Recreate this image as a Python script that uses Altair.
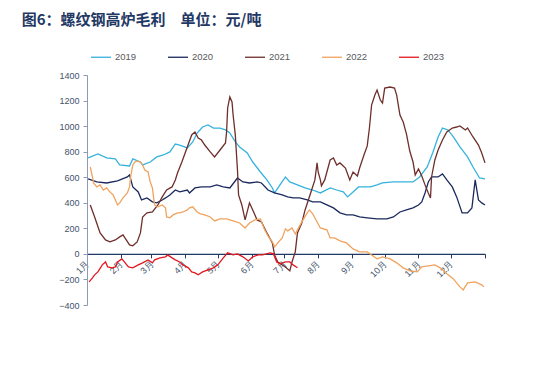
import altair as alt
import pandas as pd

# ---- data (day of year, gross margin yuan/ton) ----
years = ["2019", "2020", "2021", "2022", "2023"]
colors = ["#35B2DE", "#1B2A5E", "#6E2E2B", "#F0A35E", "#E3171E"]
widths = [1.3, 1.3, 1.3, 1.3, 2.4]

d2019 = [1,10,18,26,30,39,42,49,51,58,64,70,76,81,85,92,97,101,106,111,116,122,127,131,136,140,147,152,159,165,170,172,177,182,186,193,200,207,214,223,229,235,239,244,249,253,260,266,271,281,290,299,305,312,317,322,326,331,336,342,349,354,360,365]
v2019 = [751,782,751,743,696,688,743,719,696,719,759,774,798,860,852,829,876,946,993,1009,985,985,970,946,876,837,790,719,641,579,516,477,540,602,563,540,516,500,477,516,500,485,446,485,524,524,524,540,555,563,563,563,602,680,790,915,985,970,915,837,759,680,594,587]

d2020 = [1,9,18,28,37,39,42,47,50,55,60,64,69,72,76,81,85,92,94,99,105,113,119,125,131,138,143,149,156,160,166,172,179,184,189,195,202,207,214,220,226,232,238,244,250,257,266,275,281,287,293,299,304,307,310,313,316,322,326,330,335,339,344,349,353,356,359,362,365]
v2020 = [587,563,555,571,602,618,524,485,422,438,407,399,422,438,461,500,485,500,477,516,524,524,540,524,516,594,563,555,563,555,500,477,461,446,438,438,422,407,407,383,360,321,305,305,289,282,274,274,289,328,344,360,383,407,477,563,602,602,626,579,524,446,321,321,360,579,422,399,383]

d2021 = [3,7,12,17,21,26,30,33,36,39,42,46,49,51,55,60,65,69,73,78,81,83,87,92,96,99,102,105,108,113,117,122,127,128,129,131,133,134,136,138,139,142,145,149,152,156,160,165,170,172,175,182,186,188,191,193,197,200,203,206,209,211,212,214,215,218,223,226,229,232,237,241,244,248,250,254,257,259,261,264,266,269,271,273,278,282,284,287,290,293,296,299,301,304,307,310,313,315,316,319,322,326,330,335,339,342,347,349,354,359,362,365]
v2021 = [383,289,164,109,94,109,133,149,109,70,63,94,164,289,321,328,383,446,500,524,579,633,719,837,931,954,907,891,852,798,759,813,868,954,1142,1228,1189,1087,931,657,461,383,266,399,344,266,250,164,86,-8,-63,-102,-133,-63,16,164,242,344,422,500,579,712,641,579,532,579,735,751,696,712,672,579,641,610,672,774,845,985,1165,1243,1282,1204,1181,1298,1306,1298,1243,1087,1032,938,805,719,618,665,610,540,477,438,602,735,813,891,954,985,993,1001,970,985,915,852,790,712]

d2022 = [3,5,6,9,12,15,18,21,24,26,28,30,33,37,39,40,42,44,46,49,51,53,56,58,60,61,62,65,69,72,73,76,79,83,85,88,92,94,97,101,104,108,113,117,122,128,134,140,145,149,154,159,163,166,170,172,175,179,182,184,188,191,193,197,202,204,207,211,214,220,223,227,232,238,244,250,257,261,266,271,278,284,290,296,303,307,313,319,324,330,336,342,345,349,356,362,364]
v2022 = [680,602,555,524,540,500,516,485,461,422,383,399,438,477,524,602,696,719,727,719,696,657,641,563,516,446,383,368,383,360,289,282,305,321,321,328,344,360,368,328,313,305,289,258,274,274,258,242,203,242,266,274,188,141,94,55,86,125,196,180,203,156,188,250,321,344,313,250,203,188,125,125,102,86,39,16,16,-8,-39,-23,-39,-70,-109,-133,-141,-102,-94,-86,-109,-156,-196,-258,-282,-227,-219,-242,-258]

d2023 = [2,5,7,10,14,17,19,23,26,28,32,35,38,42,47,51,56,60,62,67,72,74,78,81,85,88,93,96,99,102,106,111,116,120,125,129,134,138,143,148,152,157,161,168,171,174,177,182,186,189,193]
v2023 = [-219,-188,-164,-141,-86,-63,-102,-109,-102,-63,-39,-70,-102,-109,-86,-70,-47,-70,-47,-31,-23,-8,-31,-47,-63,-86,-109,-141,-149,-164,-141,-125,-109,-86,-31,8,-8,0,-23,-55,-23,-8,-8,8,0,-63,-78,-63,-63,-86,-109]

month_starts = [0, 31, 59, 90, 120, 151, 181, 212, 243, 273, 304, 334]
month_labels = ["1月", "2月", "3月", "4月", "5月", "6月", "7月", "8月", "9月", "10月", "11月", "12月"]
y_ticks = [-400, -200, 0, 200, 400, 600, 800, 1000, 1200, 1400]

series = {"2019": (d2019, v2019), "2020": (d2020, v2020), "2021": (d2021, v2021),
          "2022": (d2022, v2022), "2023": (d2023, v2023)}
rows = []
for yr, (ds, vs) in series.items():
    for d, v in zip(ds, vs):
        rows.append({"year": yr, "day": d, "value": v})
df = pd.DataFrame(rows)

starts_js = "[" + ",".join(str(m) for m in month_starts) + "]"
labels_js = "[" + ",".join("'" + m + "'" for m in month_labels) + "]"
label_expr = (f"indexof({starts_js}, datum.value) >= 0 ? "
              f"{labels_js}[indexof({starts_js}, datum.value)] : ''")

H = 230
zero_offset = -(400 / 1800) * H

legend_kw = dict(title=None, orient="none", direction="horizontal",
                 legendX=3, legendY=-29, columnPadding=28,
                 symbolType="stroke", symbolSize=400,
                 labelFontSize=9.5, labelColor="#595959",
                 labelFont="Liberation Sans", labelOffset=3)

chart = alt.Chart(df).mark_line(interpolate="linear").encode(
    x=alt.X("day:Q",
            scale=alt.Scale(domain=[0, 365], nice=False, zero=False),
            axis=alt.Axis(values=month_starts + [365], labelExpr=label_expr,
                          title=None, grid=False, offset=zero_offset,
                          domainColor="#1F3864", domainWidth=1.2,
                          tickColor="#1F3864", tickSize=4,
                          labelAngle=315, labelAlign="right", labelBaseline="middle",
                          labelFontSize=9, labelColor="#44546A",
                          labelFont="Liberation Sans", labelPadding=4)),
    y=alt.Y("value:Q",
            scale=alt.Scale(domain=[-400, 1400], nice=False),
            axis=alt.Axis(values=y_ticks, format="d", title=None, grid=False,
                          domainColor="#8C9AB3", tickColor="#8C9AB3", tickSize=4,
                          labelFontSize=9, labelColor="#44546A",
                          labelFont="Liberation Sans", labelPadding=4)),
    color=alt.Color("year:O", scale=alt.Scale(domain=years, range=colors),
                    legend=alt.Legend(**legend_kw)),
    strokeWidth=alt.StrokeWidth("year:O", scale=alt.Scale(domain=years, range=widths),
                                legend=alt.Legend(**legend_kw)),
    order=alt.Order("day:Q"),
).properties(
    width=398,
    height=H,
    title=alt.TitleParams("图6：螺纹钢高炉毛利\u3000单位：元/吨", anchor="start",
                          font="Noto Sans CJK SC", fontSize=15, fontWeight="bold",
                          color="#1F3864", dx=-37, offset=0, dy=-18),
    autosize=alt.AutoSizeParams(type="none"),
    padding={"left": 79, "top": 67, "right": 44, "bottom": 60},
    background="white",
).configure_view(stroke=None)

chart.save("out.html", embed_options={"renderer": "svg", "actions": False})
